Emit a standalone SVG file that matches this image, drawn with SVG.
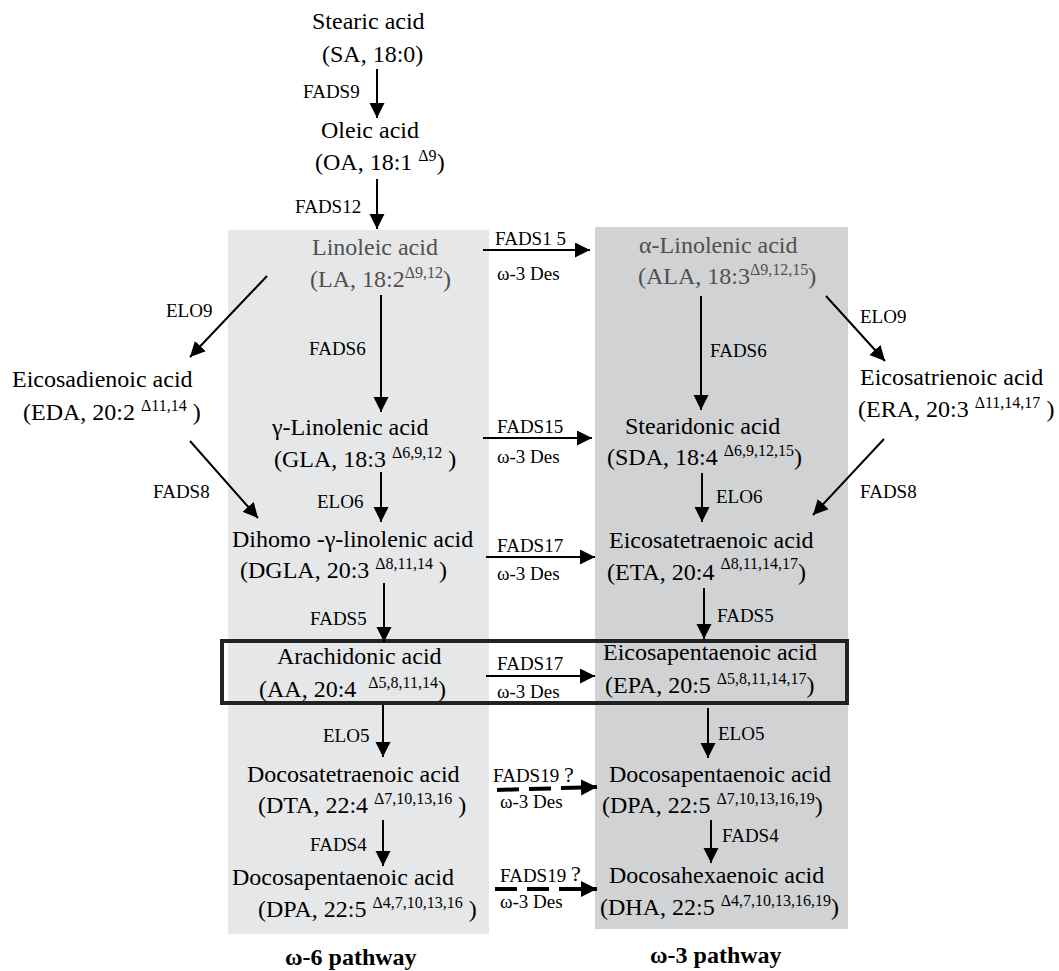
<svg xmlns="http://www.w3.org/2000/svg" width="1059" height="971" viewBox="0 0 1059 971">
<style>
text{font-family:"Liberation Serif","Times New Roman",serif;fill:#000}
.t{font-size:24px}
.g{fill:#505050}
.sup{font-size:16px}
.lb{font-size:19px}
.q{font-size:22px}
.bold{font-size:24px;font-weight:bold}
.c{stroke:#000;stroke-width:2;fill:none}
.d{stroke:#000;stroke-width:4;fill:none;stroke-dasharray:22 10}
</style>
<defs>
<marker id="ah" markerUnits="userSpaceOnUse" markerWidth="16" markerHeight="16" refX="15" refY="7.5" orient="auto"><path d="M0,0 L15,7.5 L0,15 z" fill="#000"/></marker>
<marker id="ahd" markerUnits="userSpaceOnUse" markerWidth="18" markerHeight="17" refX="16" refY="8" orient="auto"><path d="M0,0 L16,8 L0,16 z" fill="#000"/></marker>
</defs>
<rect width="1059" height="971" fill="#fff"/>
<g id="panels">
<rect id="panel-omega6" x="228" y="230" width="261" height="704" fill="#e6e7e9"/>
<rect id="panel-omega3" x="595" y="227" width="253" height="702" fill="#d1d2d4"/>
</g>
<g id="highlight">
<rect x="222" y="641" width="625" height="62" fill="none" stroke="#222" stroke-width="4"/>
</g>
<g id="connectors">
<line class="c" x1="377" y1="69" x2="377" y2="118" marker-end="url(#ah)"/>
<line class="c" x1="377" y1="179" x2="377" y2="229" marker-end="url(#ah)"/>
<line class="c" x1="483" y1="250" x2="590" y2="250" marker-end="url(#ah)"/>
<line class="c" x1="267" y1="276" x2="190" y2="357" marker-end="url(#ah)"/>
<line class="c" x1="381" y1="295" x2="381" y2="412" marker-end="url(#ah)"/>
<line class="c" x1="701" y1="296" x2="701" y2="410" marker-end="url(#ah)"/>
<line class="c" x1="826" y1="296" x2="885" y2="361" marker-end="url(#ah)"/>
<line class="c" x1="483" y1="438" x2="592" y2="438" marker-end="url(#ah)"/>
<line class="c" x1="190" y1="441" x2="258" y2="518" marker-end="url(#ah)"/>
<line class="c" x1="381" y1="472" x2="381" y2="522" marker-end="url(#ah)"/>
<line class="c" x1="702" y1="473" x2="702" y2="522" marker-end="url(#ah)"/>
<line class="c" x1="884" y1="439" x2="813" y2="515" marker-end="url(#ah)"/>
<line class="c" x1="486" y1="557" x2="595" y2="557" marker-end="url(#ah)"/>
<line class="c" x1="384" y1="583" x2="384" y2="642" marker-end="url(#ah)"/>
<line class="c" x1="704" y1="588" x2="704" y2="639" marker-end="url(#ah)"/>
<line class="c" x1="486" y1="676" x2="595" y2="676" marker-end="url(#ah)"/>
<line class="c" x1="383" y1="705" x2="383" y2="757" marker-end="url(#ah)"/>
<line class="c" x1="708" y1="708" x2="708" y2="758" marker-end="url(#ah)"/>
<line class="d" x1="497" y1="790" x2="597" y2="787" marker-end="url(#ahd)"/>
<line class="c" x1="383" y1="820" x2="383" y2="866" marker-end="url(#ah)"/>
<line class="c" x1="711" y1="820" x2="711" y2="863" marker-end="url(#ah)"/>
<line class="d" x1="495" y1="889" x2="597" y2="889" marker-end="url(#ahd)"/>
</g>
<g id="edge-labels">
<text class="lb" x="303" y="98">FADS9</text>
<text class="lb" x="295" y="213">FADS12</text>
<text class="lb" x="495" y="245">FADS1 5</text>
<text class="lb" x="497" y="280">ω-3 Des</text>
<text class="lb" x="166" y="317">ELO9</text>
<text class="lb" x="309" y="355">FADS6</text>
<text class="lb" x="710" y="357">FADS6</text>
<text class="lb" x="860" y="323">ELO9</text>
<text class="lb" x="497" y="433">FADS15</text>
<text class="lb" x="497" y="463">ω-3 Des</text>
<text class="lb" x="317" y="508">ELO6</text>
<text class="lb" x="716" y="503">ELO6</text>
<text class="lb" x="153" y="498">FADS8</text>
<text class="lb" x="860" y="498">FADS8</text>
<text class="lb" x="497" y="552">FADS17</text>
<text class="lb" x="497" y="580">ω-3 Des</text>
<text class="lb" x="310" y="625">FADS5</text>
<text class="lb" x="717" y="622">FADS5</text>
<text class="lb" x="497" y="670">FADS17</text>
<text class="lb" x="497" y="698">ω-3 Des</text>
<text class="lb" x="323" y="742">ELO5</text>
<text class="lb" x="718" y="740">ELO5</text>
<text class="lb" x="493" y="782">FADS19 <tspan class="q">?</tspan></text>
<text class="lb" x="500" y="808">ω-3 Des</text>
<text class="lb" x="310" y="851">FADS4</text>
<text class="lb" x="722" y="842">FADS4</text>
<text class="lb" x="500" y="882">FADS19 <tspan class="q" dy="-1">?</tspan></text>
<text class="lb" x="500" y="908">ω-3 Des</text>
</g>
<g id="node-sa"><text class="t" x="312" y="29">Stearic acid</text><text class="t" x="322" y="62">(SA, 18:0)</text></g>
<g id="node-oa"><text class="t" x="321" y="138">Oleic acid</text><text class="t" x="315" y="170">(OA, 18:1 <tspan class="sup" dy="-9">Δ9</tspan><tspan dy="9">)</tspan></text></g>
<g id="node-la"><text class="t g" x="312" y="255">Linoleic acid</text><text class="t g" x="310" y="287">(LA, 18:2<tspan class="sup" dy="-9">Δ9,12</tspan><tspan dy="9">)</tspan></text></g>
<g id="node-ala"><text class="t g" x="639" y="253">α-Linolenic acid</text><text class="t g" x="638" y="284">(ALA, 18:3<tspan class="sup" dy="-9">Δ9,12,15</tspan><tspan dy="9">)</tspan></text></g>
<g id="node-eda"><text class="t" x="12" y="387">Eicosadienoic acid</text><text class="t" x="23" y="420">(EDA, 20:2 <tspan class="sup" dy="-9">Δ11,14</tspan><tspan dy="9"> )</tspan></text></g>
<g id="node-gla"><text class="t" x="272" y="435">γ-Linolenic acid</text><text class="t" x="274" y="467">(GLA, 18:3 <tspan class="sup" dy="-9">Δ6,9,12</tspan><tspan dy="9"> )</tspan></text></g>
<g id="node-sda"><text class="t" x="625" y="434">Stearidonic acid</text><text class="t" x="607" y="465">(SDA, 18:4 <tspan class="sup" dy="-9">Δ6,9,12,15</tspan><tspan dy="9">)</tspan></text></g>
<g id="node-era"><text class="t" x="860" y="385">Eicosatrienoic acid</text><text class="t" x="858" y="417">(ERA, 20:3 <tspan class="sup" dy="-9">Δ11,14,17</tspan><tspan dy="9"> )</tspan></text></g>
<g id="node-dgla"><text class="t" x="232" y="547">Dihomo -γ-linolenic acid</text><text class="t" x="240" y="578">(DGLA, 20:3 <tspan class="sup" dy="-9">Δ8,11,14</tspan><tspan dy="9"> )</tspan></text></g>
<g id="node-eta"><text class="t" x="609" y="548">Eicosatetraenoic acid</text><text class="t" x="607" y="580">(ETA, 20:4 <tspan class="sup" dy="-11">Δ8,11,14,17</tspan><tspan dy="11">)</tspan></text></g>
<g id="node-aa"><text class="t" x="277" y="664">Arachidonic acid</text><text class="t" x="259" y="697">(AA, 20:4 <tspan class="sup" dx="6" dy="-9">Δ5,8,11,14</tspan><tspan dy="9">)</tspan></text></g>
<g id="node-epa"><text class="t" x="603" y="660">Eicosapentaenoic acid</text><text class="t" x="605" y="693">(EPA, 20:5 <tspan class="sup" dy="-9">Δ5,8,11,14,17</tspan><tspan dy="9">)</tspan></text></g>
<g id="node-dta"><text class="t" x="247" y="782">Docosatetraenoic acid</text><text class="t" x="258" y="813">(DTA, 22:4 <tspan class="sup" dy="-9">Δ7,10,13,16</tspan><tspan dy="9"> )</tspan></text></g>
<g id="node-dpa3"><text class="t" x="609" y="782">Docosapentaenoic acid</text><text class="t" x="602" y="813">(DPA, 22:5 <tspan class="sup" dy="-9">Δ7,10,13,16,19</tspan><tspan dy="9">)</tspan></text></g>
<g id="node-dpa6"><text class="t" x="232" y="885">Docosapentaenoic acid</text><text class="t" x="258" y="917">(DPA, 22:5 <tspan class="sup" dy="-9">Δ4,7,10,13,16</tspan><tspan dy="9"> )</tspan></text></g>
<g id="node-dha"><text class="t" x="609" y="883">Docosahexaenoic acid</text><text class="t" x="600" y="915">(DHA, 22:5 <tspan class="sup" dy="-9">Δ4,7,10,13,16,19</tspan><tspan dy="9">)</tspan></text></g>
<g id="titles">
<text class="bold" x="285" y="965">ω-6 pathway</text>
<text class="bold" x="650" y="963">ω-3 pathway</text>
</g>
</svg>
